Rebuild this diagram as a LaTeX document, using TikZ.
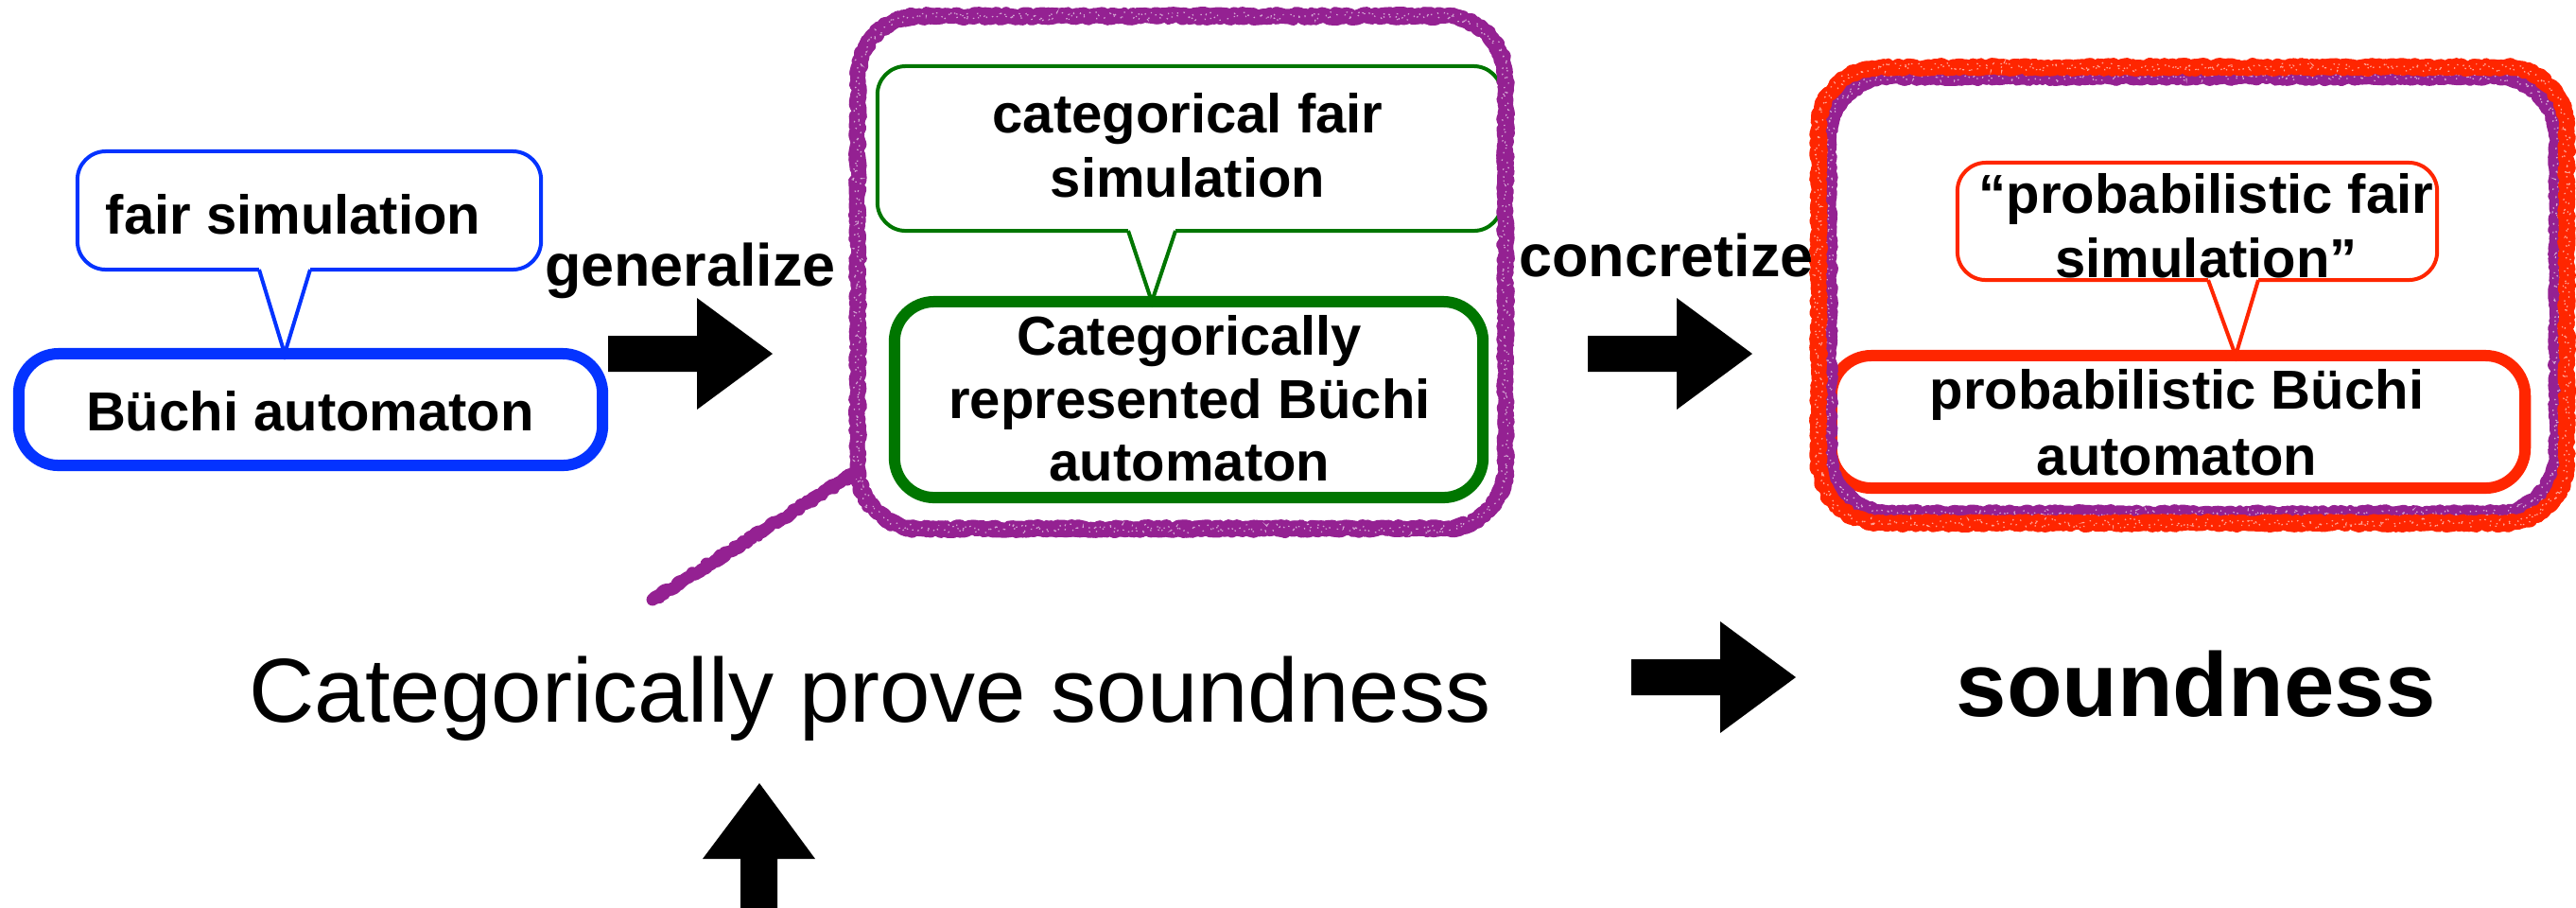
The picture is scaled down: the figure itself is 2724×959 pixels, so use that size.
\documentclass[tikz,border=0pt]{standalone}
\usepackage{fontspec}
\setmainfont{Liberation Sans}
\usetikzlibrary{calc,decorations.pathmorphing}
\definecolor{kblue}{RGB}{4,51,255}
\definecolor{kgreen}{RGB}{0,118,0}
\definecolor{kred}{RGB}{255,38,0}
\definecolor{kplum}{RGB}{148,33,146}

\tikzset{
  thickbox/.style={draw, line width=0.12cm, rounded corners=0.42cm, fill=white, inner sep=0pt, outer sep=0pt},
  callbox/.style={draw, line width=0.04cm, rounded corners=0.3cm, fill=white, inner sep=0pt, outer sep=0pt},
  pointer/.style={line width=0.04cm, line join=miter},
  boxtext/.style={font=\bfseries\fontsize{16.5}{18}\selectfont, anchor=base, inner sep=0pt},
  verbtext/.style={font=\bfseries\fontsize{17.9}{20}\selectfont, anchor=base, inner sep=0pt},
  bigtext/.style={font=\fontsize{27.3}{30}\selectfont, anchor=base, inner sep=0pt},
  chalkpass/.style 2 args={line width=#1cm, decorate,
    decoration={random steps, segment length=0.035cm, amplitude=#2cm},
    line join=round, line cap=round},
  speckle/.style={white, opacity=0.6, line width=0.012cm, dash pattern=on 0.015cm off 0.07cm,
    decorate, decoration={random steps, segment length=0.02cm, amplitude=0.05cm}},
  blockarrow/.pic={\fill (0,-19) -- (94,-19) -- (94,-59) -- (174,0) -- (94,59) -- (94,19) -- (0,19) -- cycle;}
}

% hand-drawn rounded frame: colour, left, top, right, bottom
\newcommand\chalkframe[5]{%
  \foreach \lw/\am in {0.16/0.02,0.12/0.04,0.08/0.055}{%
    \draw[#1, chalkpass={\lw}{\am}]
      (#2+65,#3) -- (#4-65,#3) arc[start angle=90,end angle=0,radius=0.65cm]
      -- (#4,#5-65) arc[start angle=0,end angle=-90,radius=0.65cm]
      -- (#2+65,#5) arc[start angle=-90,end angle=-180,radius=0.65cm]
      -- (#2,#3+65) arc[start angle=180,end angle=90,radius=0.65cm] -- cycle;}
  \draw[speckle]
      (#2+65,#3) -- (#4-65,#3) arc[start angle=90,end angle=0,radius=0.65cm]
      -- (#4,#5-65) arc[start angle=0,end angle=-90,radius=0.65cm]
      -- (#2+65,#5) arc[start angle=-90,end angle=-180,radius=0.65cm]
      -- (#2,#3+65) arc[start angle=180,end angle=90,radius=0.65cm] -- cycle;
}

\begin{document}
\begin{tikzpicture}[x=0.01cm,y=-0.01cm]
\fill[white] (0,0) rectangle (2724,959);
\useasboundingbox (0,0) rectangle (2724,959);

% ---- Buchi automaton and fair simulation ----
\node[thickbox, draw=kblue, minimum width=6.17cm, minimum height=1.18cm] (ba) at (328.5,433) {};
\node[callbox, draw=kblue, minimum width=4.90cm, minimum height=1.25cm] (fs) at (327,222.5) {};
\fill[white] ($(fs.south)+(-53,-3)$) rectangle ($(fs.south)+(1,4)$);
\draw[pointer, kblue] ($(fs.south)+(-53,0)$) -- ($(ba.north)+(-27.5,0)$) -- ($(fs.south)+(1,0)$);

% ---- categorical version ----
\node[thickbox, draw=kgreen, minimum width=6.22cm, minimum height=2.07cm] (cb) at (1257,422.5) {};
\node[callbox, draw=kgreen, minimum width=6.60cm, minimum height=1.74cm] (cf) at (1258,157) {};
\fill[white] ($(cf.south)+(-65,-3)$) rectangle ($(cf.south)+(-15,4)$);
\draw[pointer, kgreen] ($(cf.south)+(-65,0)$) -- ($(cb.north)+(-39,0)$) -- ($(cf.south)+(-15,0)$);

% ---- probabilistic version ----
\node[thickbox, draw=kred, minimum width=7.33cm, minimum height=1.40cm] (pb) at (2303.5,446) {};
\node[callbox, draw=kred, minimum width=5.07cm, minimum height=1.24cm] (pf) at (2323.5,234) {};
\fill[white] ($(pf.south)+(11.5,-3)$) rectangle ($(pf.south)+(64.5,4)$);
\draw[pointer, kred] ($(pf.south)+(11.5,0)$) -- ($(pb.north)+(60.5,0)$) -- ($(pf.south)+(64.5,0)$);

% ---- hand-drawn frames ----
\chalkframe{kplum}{907}{17}{1592}{559}
\coordinate (pj) at (907,498);
\coordinate (pt) at (690,634);
\foreach \lw/\am in {0.13/0.02,0.09/0.04}{\draw[kplum, chalkpass={\lw}{\am}] (pj) -- (pt);}
\chalkframe{kplum}{1934}{81}{2704}{543}
\chalkframe{kred}{1923}{71}{2714}{553}

% ---- block arrows ----
\coordinate (a1) at (643,374);
\coordinate (a2) at (1679,374);
\coordinate (a3) at (1725,716);
\coordinate (a4) at (803,828);
\pic at (a1) {blockarrow};
\pic at (a2) {blockarrow};
\pic at (a3) {blockarrow};
\fill (a4) -- ++(59,80) -- ++(-40,0) -- ++(0,60) -- ++(-39,0) -- ++(0,-60) -- ++(-40,0) -- cycle;

% ---- texts ----
\node[boxtext] (fst) at (310,247) {fair simulation};
\node[boxtext] (bat) at (328,455) {Büchi automaton};
\node[verbtext] (gen) at (730,302) {generalize};
\node[verbtext] (con) at (1762,292) {concretize};
\node[boxtext] (cf1) at (1256,140) {categorical fair};
\node[boxtext] (cf2) at (1256,208) {simulation};
\node[boxtext] (cb1) at (1258,375) {Categorically};
\node[boxtext] (cb2) at (1258,442) {represented Büchi};
\node[boxtext] (cb3) at (1258,508) {automaton};
\node[boxtext] (pf1) at (2333,225) {“probabilistic fair};
\node[boxtext] (pf2) at (2333,293) {simulation”};
\node[boxtext] (pb1) at (2302,432) {probabilistic Büchi};
\node[boxtext] (pb2) at (2302,502) {automaton};
\node[bigtext] (cps) at (920,763) {Categorically prove soundness};
\node[bigtext, font=\bfseries\fontsize{27.3}{30}\selectfont] (snd) at (2322,757) {soundness};
\end{tikzpicture}
\end{document}
